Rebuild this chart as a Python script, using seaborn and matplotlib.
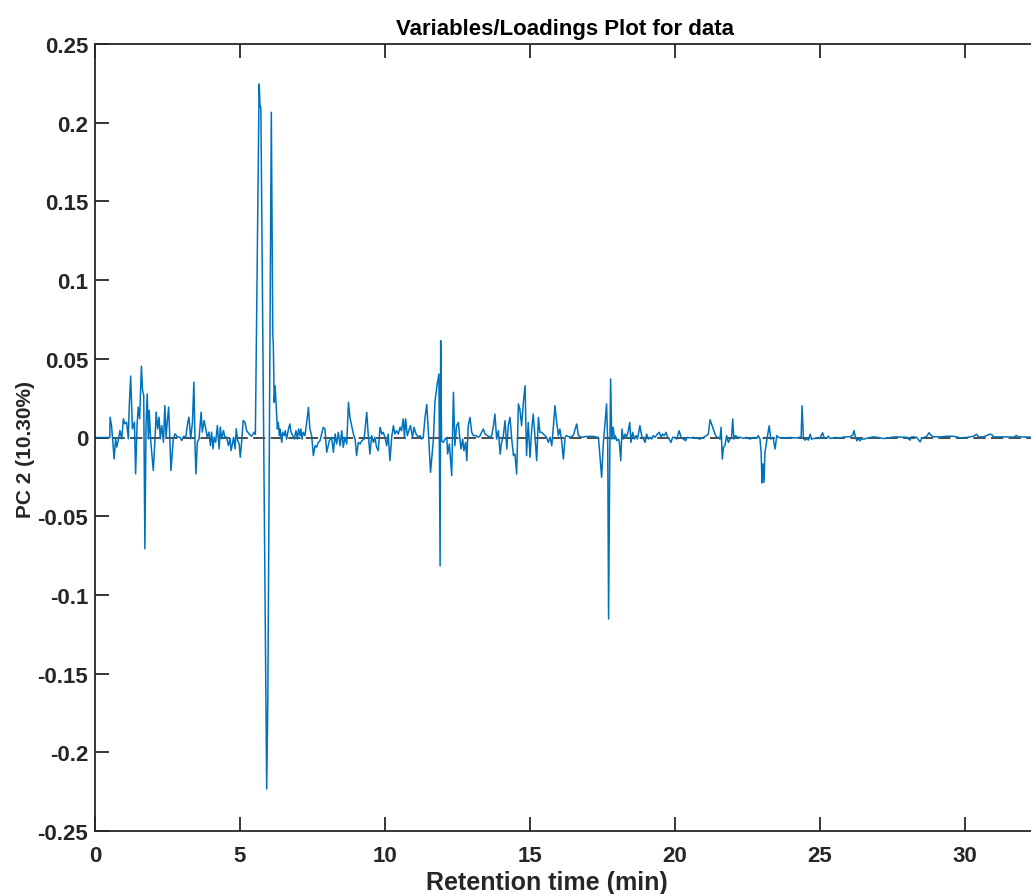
import numpy as np
import pandas as pd
import matplotlib
matplotlib.use("Agg")
import matplotlib.pyplot as plt
from matplotlib.ticker import FuncFormatter
import seaborn as sns

# Loadings of the second principal component along the chromatogram
retention_time = [
    0.00, 0.51, 0.52, 0.57, 0.66, 0.71, 0.75, 0.80, 0.86, 0.92, 0.98, 1.03, 1.09, 1.15, 1.18,
    1.23, 1.29, 1.36, 1.40, 1.45, 1.49, 1.54, 1.60, 1.64, 1.68, 1.72, 1.76, 1.80, 1.84, 1.87,
    1.92, 2.01, 2.07, 2.11, 2.16, 2.21, 2.25, 2.30, 2.36, 2.41, 2.45, 2.49, 2.54, 2.59, 2.62,
    2.70, 2.76, 2.85, 2.93, 2.99, 3.06, 3.13, 3.20, 3.24, 3.30, 3.36, 3.41, 3.45, 3.48, 3.53,
    3.59, 3.66, 3.70, 3.76, 3.82, 3.87, 3.93, 3.98, 4.02, 4.07, 4.11, 4.16, 4.22, 4.28, 4.32,
    4.37, 4.43, 4.48, 4.54, 4.60, 4.66, 4.69, 4.74, 4.78, 4.83, 4.87, 4.92, 4.97, 5.01, 5.06,
    5.11, 5.17, 5.23, 5.31, 5.40, 5.49, 5.53, 5.66, 5.69, 5.72, 5.92, 5.96, 6.08, 6.13, 6.15,
    6.18, 6.21, 6.24, 6.29, 6.32, 6.36, 6.38, 6.44, 6.47, 6.52, 6.56, 6.61, 6.67, 6.72, 6.76,
    6.82, 6.87, 6.93, 6.98, 7.02, 7.07, 7.10, 7.14, 7.18, 7.24, 7.30, 7.36, 7.41, 7.47, 7.53,
    7.59, 7.64, 7.70, 7.76, 7.87, 7.93, 7.99, 8.08, 8.16, 8.22, 8.28, 8.33, 8.39, 8.45, 8.51,
    8.56, 8.62, 8.68, 8.74, 8.79, 8.85, 8.91, 8.97, 9.02, 9.08, 9.14, 9.20, 9.28, 9.37, 9.42,
    9.48, 9.54, 9.60, 9.65, 9.71, 9.77, 9.83, 9.89, 9.94, 10.00, 10.06, 10.11, 10.17, 10.23, 10.29,
    10.34, 10.40, 10.46, 10.52, 10.57, 10.63, 10.67, 10.71, 10.77, 10.84, 10.88, 10.95, 11.00, 11.07, 11.15,
    11.21, 11.26, 11.32, 11.38, 11.44, 11.49, 11.57, 11.67, 11.72, 11.80, 11.86, 11.90, 11.92, 11.95, 12.01,
    12.07, 12.13, 12.16, 12.22, 12.30, 12.36, 12.41, 12.47, 12.53, 12.56, 12.62, 12.68, 12.72, 12.78, 12.82,
    12.87, 12.93, 12.99, 13.05, 13.14, 13.22, 13.28, 13.33, 13.39, 13.45, 13.53, 13.62, 13.68, 13.74, 13.79,
    13.85, 13.91, 13.97, 14.02, 14.08, 14.14, 14.20, 14.25, 14.31, 14.37, 14.43, 14.48, 14.54, 14.60, 14.65,
    14.71, 14.77, 14.83, 14.88, 14.94, 15.00, 15.06, 15.11, 15.17, 15.23, 15.29, 15.34, 15.40, 15.46, 15.52,
    15.57, 15.63, 15.69, 15.75, 15.80, 15.86, 15.92, 15.98, 16.03, 16.09, 16.15, 16.21, 16.26, 16.38, 16.49,
    16.61, 16.67, 16.78, 16.95, 17.18, 17.36, 17.41, 17.47, 17.53, 17.59, 17.64, 17.68, 17.71, 17.75, 17.78,
    17.82, 17.87, 17.91, 17.94, 17.99, 18.05, 18.08, 18.13, 18.17, 18.22, 18.28, 18.33, 18.39, 18.44, 18.48,
    18.54, 18.60, 18.66, 18.70, 18.75, 18.79, 18.85, 18.91, 18.97, 19.02, 19.08, 19.14, 19.20, 19.25, 19.31,
    19.39, 19.46, 19.52, 19.57, 19.63, 19.69, 19.75, 19.80, 19.86, 19.92, 19.98, 20.06, 20.14, 20.21, 20.29,
    20.36, 20.43, 20.52, 20.63, 20.75, 20.86, 20.98, 21.09, 21.15, 21.21, 21.26, 21.32, 21.38, 21.44, 21.49,
    21.55, 21.59, 21.63, 21.67, 21.72, 21.78, 21.84, 21.90, 21.95, 21.99, 22.03, 22.09, 22.15, 22.24, 22.36,
    22.47, 22.59, 22.70, 22.82, 22.87, 22.93, 22.97, 23.00, 23.03, 23.07, 23.10, 23.14, 23.18, 23.22, 23.25,
    23.30, 23.35, 23.39, 23.45, 23.51, 23.56, 23.74, 23.97, 24.20, 24.35, 24.38, 24.43, 24.48, 24.54, 24.60,
    24.66, 24.71, 24.77, 24.89, 25.00, 25.09, 25.15, 25.23, 25.29, 25.35, 25.52, 25.69, 25.86, 26.03, 26.13,
    26.17, 26.22, 26.27, 26.32, 26.38, 26.44, 26.49, 26.67, 26.84, 27.01, 27.18, 27.30, 27.47, 27.64, 27.82,
    27.99, 28.10, 28.16, 28.33, 28.45, 28.51, 28.56, 28.68, 28.76, 28.82, 28.91, 29.14, 29.37, 29.60, 29.83,
    30.06, 30.29, 30.40, 30.46, 30.63, 30.86, 30.92, 30.98, 31.21, 31.44, 31.67, 31.78, 31.84, 32.25, 32.40,
]

pc2_loading = [
    0.0000, 0.0000, 0.0129, 0.0076, -0.0136, -0.0008, -0.0061, -0.0019, 0.0044, -0.0008, 0.0119, 0.0087, 0.0097, -0.0008, 0.0193,
    0.0390, 0.0055, 0.0097, -0.0231, 0.0076, 0.0193, 0.0119, 0.0453, 0.0299, 0.0267, -0.0707, 0.0076, 0.0277, -0.0008, 0.0172,
    -0.0019, -0.0210, -0.0008, 0.0161, 0.0055, 0.0129, -0.0008, 0.0076, -0.0030, 0.0203, 0.0002, 0.0097, 0.0193, -0.0051, -0.0210,
    -0.0008, 0.0023, 0.0002, 0.0002, -0.0019, 0.0008, 0.0002, 0.0097, 0.0129, -0.0008, 0.0097, 0.0352, -0.0051, -0.0231, -0.0030,
    -0.0008, 0.0161, 0.0034, 0.0108, 0.0055, 0.0002, 0.0034, -0.0051, 0.0034, -0.0072, 0.0002, -0.0030, 0.0076, -0.0072, 0.0066,
    -0.0008, 0.0044, 0.0002, 0.0002, -0.0051, -0.0008, -0.0083, -0.0040, 0.0002, -0.0072, 0.0055, -0.0019, -0.0040, -0.0125, -0.0019,
    0.0108, 0.0097, 0.0044, 0.0023, 0.0008, 0.0034, 0.0020, 0.2246, 0.2110, 0.2090, -0.2233, -0.1650, 0.2066, 0.0668, 0.0583,
    0.0223, 0.0329, 0.0223, 0.0054, 0.0096, 0.0012, 0.0054, -0.0031, 0.0033, 0.0012, 0.0043, -0.0010, 0.0054, 0.0086, 0.0033,
    0.0012, -0.0010, 0.0043, -0.0010, 0.0054, 0.0012, 0.0054, -0.0010, 0.0033, 0.0012, 0.0096, 0.0192, 0.0054, 0.0012, -0.0115,
    -0.0052, -0.0062, -0.0031, -0.0020, 0.0065, 0.0054, -0.0094, -0.0020, 0.0001, -0.0094, 0.0022, -0.0041, 0.0033, -0.0052, 0.0043,
    -0.0062, 0.0001, -0.0041, 0.0223, 0.0128, 0.0075, 0.0022, -0.0010, -0.0115, -0.0031, -0.0041, -0.0020, -0.0010, 0.0160, 0.0022,
    -0.0105, 0.0012, -0.0031, 0.0001, -0.0062, -0.0084, 0.0065, 0.0022, 0.0033, 0.0001, -0.0052, 0.0022, -0.0147, 0.0001, 0.0075,
    0.0022, 0.0043, 0.0022, 0.0065, 0.0043, 0.0118, 0.0001, 0.0118, 0.0012, 0.0054, 0.0075, 0.0001, 0.0065, 0.0022, 0.0001,
    0.0012, -0.0010, 0.0001, 0.0128, 0.0210, 0.0054, -0.0221, -0.0010, 0.0223, 0.0340, 0.0403, -0.0815, 0.0615, -0.0020, -0.0031,
    -0.0010, 0.0001, -0.0105, -0.0041, -0.0242, 0.0287, -0.0052, 0.0075, 0.0096, 0.0033, -0.0073, -0.0010, -0.0084, -0.0031, -0.0147,
    0.0075, 0.0128, 0.0033, 0.0012, 0.0012, 0.0001, 0.0012, 0.0033, 0.0054, 0.0022, 0.0012, 0.0001, 0.0012, 0.0075, 0.0149,
    -0.0010, 0.0043, -0.0105, -0.0031, 0.0012, 0.0107, -0.0073, 0.0075, 0.0128, -0.0010, -0.0115, -0.0105, -0.0232, 0.0213, 0.0181,
    0.0075, 0.0223, 0.0329, -0.0115, 0.0096, -0.0126, 0.0054, 0.0149, 0.0012, -0.0147, 0.0128, 0.0033, 0.0033, 0.0022, 0.0012,
    0.0001, -0.0031, 0.0001, -0.0052, 0.0054, 0.0202, 0.0096, 0.0012, 0.0054, -0.0020, -0.0137, 0.0001, 0.0012, 0.0001, 0.0012,
    0.0086, 0.0012, 0.0001, 0.0007, 0.0007, 0.0000, -0.0115, -0.0253, -0.0031, 0.0096, 0.0213, -0.0031, -0.1153, -0.0137, 0.0372,
    -0.0010, 0.0065, -0.0010, 0.0012, -0.0020, -0.0010, -0.0031, -0.0147, 0.0054, -0.0010, 0.0022, 0.0001, 0.0043, 0.0096, -0.0031,
    0.0033, -0.0010, 0.0012, -0.0010, 0.0033, 0.0075, 0.0012, -0.0010, -0.0031, 0.0022, -0.0010, 0.0001, -0.0010, 0.0012, 0.0001,
    0.0022, 0.0033, 0.0001, 0.0022, 0.0012, 0.0033, 0.0001, -0.0010, -0.0031, 0.0001, 0.0001, -0.0010, 0.0043, 0.0001, -0.0010,
    -0.0020, 0.0001, -0.0003, 0.0001, -0.0005, -0.0010, 0.0001, 0.0012, 0.0022, 0.0113, 0.0086, 0.0054, 0.0022, 0.0001, 0.0001,
    -0.0010, 0.0065, -0.0137, -0.0062, -0.0052, 0.0012, -0.0031, -0.0010, 0.0001, 0.0118, -0.0010, 0.0012, 0.0001, 0.0001, -0.0005,
    0.0001, -0.0010, 0.0001, -0.0005, 0.0012, -0.0010, -0.0094, -0.0289, -0.0168, -0.0285, -0.0094, -0.0052, 0.0001, 0.0043, 0.0075,
    -0.0010, 0.0001, -0.0010, -0.0073, 0.0012, 0.0001, -0.0003, 0.0000, -0.0003, 0.0004, 0.0201, -0.0006, -0.0017, -0.0006, -0.0017,
    0.0021, -0.0011, -0.0006, -0.0006, -0.0002, 0.0030, -0.0006, -0.0002, 0.0008, -0.0006, 0.0000, -0.0002, 0.0004, 0.0004, 0.0015,
    0.0044, 0.0004, -0.0021, -0.0006, -0.0021, -0.0006, -0.0011, -0.0002, 0.0004, 0.0000, -0.0006, -0.0006, 0.0002, 0.0004, 0.0002,
    0.0002, -0.0017, 0.0004, 0.0002, -0.0028, -0.0006, -0.0002, 0.0008, 0.0030, 0.0015, 0.0004, 0.0004, 0.0008, 0.0008, -0.0002,
    0.0000, 0.0008, 0.0021, 0.0004, 0.0004, 0.0021, 0.0019, 0.0004, 0.0004, 0.0004, 0.0002, 0.0013, 0.0004, 0.0002, 0.0003,
]

x_ticks = [0, 5, 10, 15, 20, 25, 30]
y_ticks = [-0.25, -0.2, -0.15, -0.1, -0.05, 0, 0.05, 0.1, 0.15, 0.2, 0.25]

title_text = "Variables/Loadings Plot for data"
x_label = "Retention time (min)"
y_label = "PC 2 (10.30%)"

line_color = "#0072BD"
ink = "#262626"

sns.set_theme(style="ticks")
plt.rcParams["font.family"] = ["Liberation Sans", "DejaVu Sans"]
plt.rcParams["font.weight"] = "bold"

df = pd.DataFrame({"time": retention_time, "loading": pc2_loading})

W, H = 1031, 895
fig = plt.figure(figsize=(W / 100, H / 100), dpi=100)
left_px, right_px, top_px, bottom_px = 95, 1034, 45, 832
ax = fig.add_axes([left_px / W, 1 - bottom_px / H,
                   (right_px - left_px) / W, (bottom_px - top_px) / H])

# zero reference line
ax.axhline(0, color="#1a1a1a", lw=1.1, ls=(0, (8, 3.5)), zorder=1)

sns.lineplot(data=df, x="time", y="loading", ax=ax, color=line_color,
             linewidth=1.1, estimator=None, sort=False, zorder=2)

ax.set_xlim(0, (right_px - left_px) / 29.0)
ax.set_ylim(-0.25, 0.25)
ax.set_xticks(x_ticks)
ax.set_yticks(y_ticks)
ax.yaxis.set_major_formatter(FuncFormatter(lambda v, p: "%g" % round(v, 2)))
ax.xaxis.set_major_formatter(FuncFormatter(lambda v, p: "%g" % v))

ax.tick_params(axis="both", direction="in", length=10, width=1.3, colors=ink,
               labelsize=16, top=True, right=False)
ax.tick_params(axis="y", pad=5)
ax.tick_params(axis="x", pad=10)
for lab in ax.get_xticklabels() + ax.get_yticklabels():
    lab.set_fontweight("bold")
for s in ax.spines.values():
    s.set_color(ink)
    s.set_linewidth(1.3)

ax.set_title(title_text, fontsize=16, fontweight="bold", color="black", pad=7)
ax.set_xlabel(x_label, fontsize=18, fontweight="bold", color=ink, labelpad=0)
ax.xaxis.set_label_coords((547 - left_px) / (right_px - left_px), -0.05)
ax.set_ylabel(y_label, fontsize=15, fontweight="bold", color=ink)
ax.yaxis.set_label_coords(-0.064, (bottom_px - 450) / (bottom_px - top_px))

fig.savefig("out.png", dpi=100)
